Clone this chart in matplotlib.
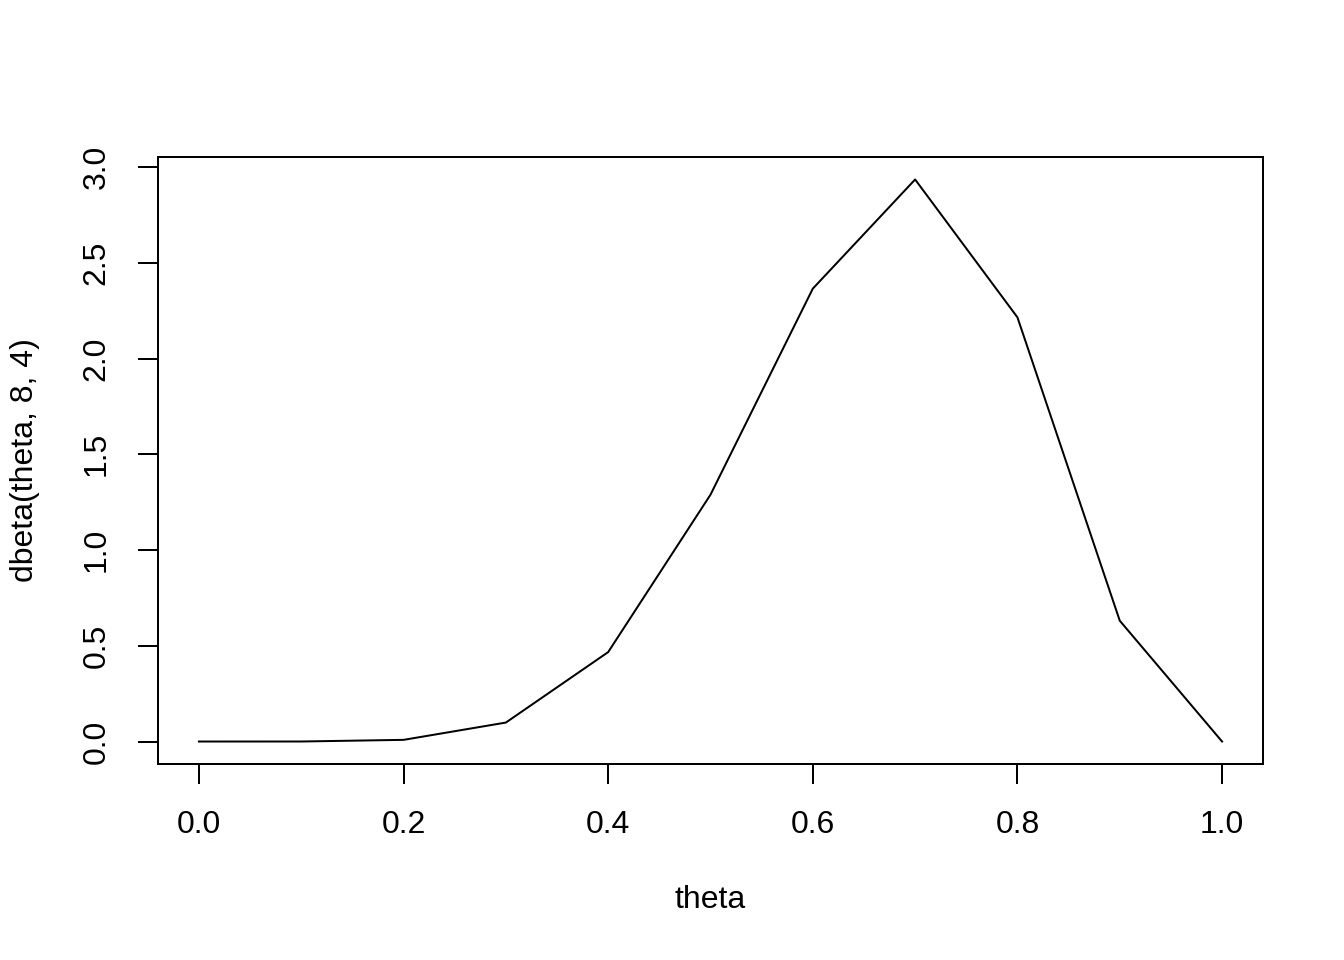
import matplotlib
matplotlib.use("Agg")
import matplotlib.pyplot as plt

# values
theta = [0.0, 0.1, 0.2, 0.3, 0.4, 0.5, 0.6, 0.7, 0.8, 0.9, 1.0]
density = [0.0, 0.0001, 0.0087, 0.099, 0.467, 1.289, 2.365, 2.935, 2.215, 0.631, 0.0]
x_ticks = [0.0, 0.2, 0.4, 0.6, 0.8, 1.0]
y_ticks = [0.0, 0.5, 1.0, 1.5, 2.0, 2.5, 3.0]

plt.rcParams['font.family'] = ['Liberation Sans', 'DejaVu Sans']

fig = plt.figure(figsize=(13.44, 9.6), dpi=100)
ax = fig.add_axes([158 / 1344, 1 - 764 / 960, (1263 - 158) / 1344, (764 - 157) / 960])
ax.plot(theta, density, color='black', linewidth=1.44)

xpad = 0.04 * (max(theta) - min(theta))
ypad = 0.04 * (max(density) - min(density))
ax.set_xlim(min(theta) - xpad, max(theta) + xpad)
ax.set_ylim(min(density) - ypad, max(density) + ypad)

ax.set_xticks(x_ticks)
ax.set_xticklabels(['%.1f' % v for v in x_ticks])
ax.set_yticks(y_ticks)
ax.set_yticklabels(['%.1f' % v for v in y_ticks], rotation=90, va='center')
ax.tick_params(direction='out', length=14.4, width=1.44, labelsize=23, pad=19, color='black')

for s in ax.spines.values():
    s.set_linewidth(1.44)

ax.set_xlabel('theta', fontsize=23, labelpad=38)
ax.set_ylabel('dbeta(theta, 8, 4)', fontsize=23, labelpad=38)
ax.xaxis.set_label_coords(0.5, -(900 - 764) / (764 - 157), transform=ax.transAxes)
ax.xaxis.label.set_va('center')
ax.yaxis.set_label_coords(-(158 - 25) / (1263 - 158), 0.5, transform=ax.transAxes)
ax.yaxis.label.set_va('center')

fig.savefig('out.png', dpi=100)
